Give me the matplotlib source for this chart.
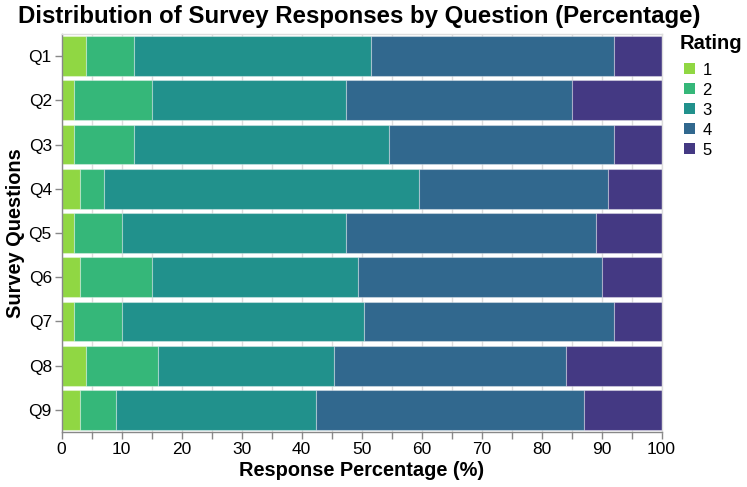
import matplotlib
matplotlib.use("Agg")
import matplotlib.pyplot as plt
from matplotlib.patches import Patch
import numpy as np

plt.rcParams['font.family'] = ['Liberation Sans', 'DejaVu Sans']

questions = ["Q1", "Q2", "Q3", "Q4", "Q5", "Q6", "Q7", "Q8", "Q9"]
ratings = ["1", "2", "3", "4", "5"]
r1 = [4, 2, 2, 3, 2, 3, 2, 4, 3]
r2 = [8, 13, 10, 4, 8, 12, 8, 12, 6]
r3 = [39.5, 32.4, 42.6, 52.6, 37.4, 34.4, 40.4, 29.4, 33.4]
r4 = [40.5, 37.6, 37.4, 31.4, 41.6, 40.6, 41.6, 38.6, 44.6]
r5 = [8, 15, 8, 9, 11, 10, 8, 16, 13]
colors = ["#90d743", "#35b779", "#21918c", "#31688e", "#443983"]

series = [r1, r2, r3, r4, r5]

fig = plt.figure(figsize=(7.47, 4.87), dpi=100)
ax = fig.add_axes([61.5/747, 1 - 432/487, 600/747, 398/487])

y = np.arange(len(questions))
left = np.zeros(len(questions))
for vals, c in zip(series, colors):
    vals = np.array(vals, dtype=float)
    ax.barh(y, vals, left=left, height=0.9, color=c,
            edgecolor=(1, 1, 1, 0.35), linewidth=0.8, zorder=2)
    left += vals

ax.set_xlim(0, 100)
ax.set_ylim(len(questions) - 0.5, -0.5)
ax.set_yticks(y)
ax.set_yticklabels(questions)
ax.set_xticks(np.arange(0, 101, 10))
ax.set_xticks(np.arange(5, 100, 10), minor=True)
ax.grid(True, axis='x', which='both', color='#dddddd', linewidth=1, zorder=0)
ax.set_axisbelow(True)

for s in ['top', 'right']:
    ax.spines[s].set_color('#dddddd')
    ax.spines[s].set_linewidth(1)
for s in ['left', 'bottom']:
    ax.spines[s].set_color('#888888')
    ax.spines[s].set_linewidth(1)

ax.tick_params(axis='both', which='both', colors='#888888', length=5, width=1,
               labelcolor='black', labelsize=12.5)
ax.tick_params(axis='x', pad=2)
ax.tick_params(axis='y', pad=2)

ax.set_xlabel("Response Percentage (%)", fontsize=14.4, fontweight='bold')
ax.set_ylabel("Survey Questions", fontsize=14.4, fontweight='bold')
ax.xaxis.set_label_coords(0.5, (432 - 470) / 398)
ax.xaxis.label.set_va('center')
ax.yaxis.set_label_coords((16 - 61.5) / 600, 0.5)
ax.yaxis.label.set_va('center')

fig.text(359 / 747, 1 - 17 / 487, "Distribution of Survey Responses by Question (Percentage)",
         ha='center', va='center', fontsize=17.3, fontweight='bold')

handles = [Patch(facecolor=c, edgecolor='none', label=r) for c, r in zip(colors, ratings)]
leg = fig.legend(handles=handles, title="Rating", loc='upper left',
                 bbox_to_anchor=(680 / 747, 1 - 34 / 487), frameon=False,
                 fontsize=12, title_fontproperties={'weight': 'bold', 'size': 14.5},
                 handlelength=0.62, handleheight=0.62, handletextpad=0.55,
                 labelspacing=0.3, borderaxespad=0, borderpad=0)
leg._legend_box.align = "left"
leg._legend_box.sep = 7
for h in leg.legend_handles:
    h.set_x(h.get_x() + 3)
for t in leg.get_texts():
    t.set_x(3)

fig.savefig("out.png", dpi=100)
